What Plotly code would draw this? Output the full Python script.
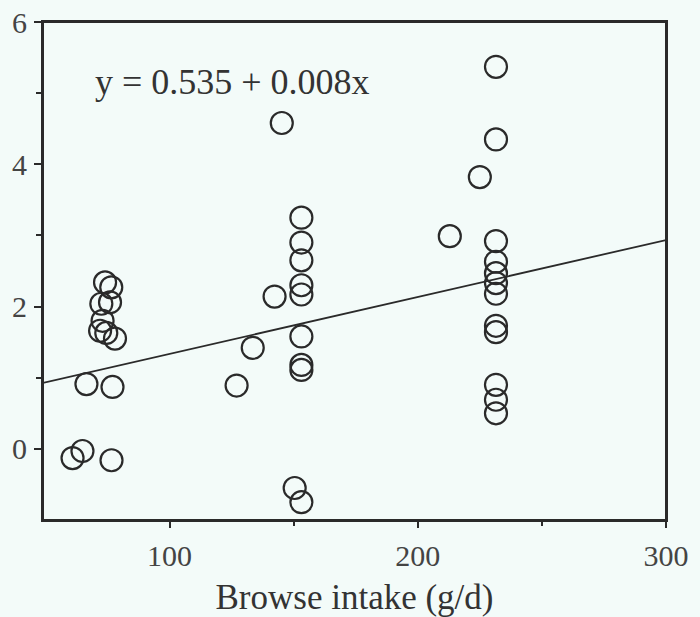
import plotly.graph_objects as go

# Browse intake (g/d) and response values
browse_intake = [
    60.9, 64.9, 76.6,
    66.5, 77.0,
    74.0, 76.5, 72.5, 76.0, 73.0, 72.0, 74.5, 78.0,
    127.0, 133.5, 142.3, 145.2,
    153.1, 153.1, 153.1, 153.1, 153.1, 153.1, 153.1, 153.1,
    150.4, 153.1,
    212.9, 225.0,
    231.5, 231.5, 231.5, 231.5, 231.5, 231.5, 231.5, 231.5, 231.5, 231.5, 231.5, 231.5,
]
response = [
    -0.13, -0.03, -0.16,
    0.91, 0.87,
    2.34, 2.27, 2.04, 2.06, 1.80, 1.66, 1.63, 1.55,
    0.89, 1.42, 2.14, 4.58,
    3.25, 2.90, 2.65, 2.30, 2.17, 1.58, 1.18, 1.11,
    -0.55, -0.75,
    2.99, 3.82,
    5.37, 4.35, 2.92, 2.63, 2.47, 2.33, 2.18, 1.73, 1.64, 0.90, 0.69, 0.50,
]

intercept = 0.535
slope = 0.008
x_range = [49, 300]
y_range = [-1, 6]

x_ticks = [100, 200, 300]
y_ticks = [0, 2, 4, 6]
x_minor = [150, 250]
y_minor = [1, 3, 5]
equation_text = "y = 0.535 + 0.008x"
x_title = "Browse intake (g/d)"

line_x = x_range
line_y = [intercept + slope * v for v in line_x]

bg = "#f3fbf9"
ink = "#2a2a2a"
font_family = "Liberation Serif, Times New Roman, serif"

fig = go.Figure()
fig.add_trace(go.Scatter(
    x=line_x, y=line_y, mode="lines",
    line=dict(color=ink, width=1.8), showlegend=False, hoverinfo="skip",
))
fig.add_trace(go.Scatter(
    x=browse_intake, y=response, mode="markers",
    marker=dict(symbol="circle-open", size=22, color=ink, line=dict(width=2.2, color=ink)),
    showlegend=False,
))

fig.add_annotation(
    x=0.08, y=0.88, xref="paper", yref="paper", xanchor="left", yanchor="middle",
    text=equation_text, showarrow=False,
    font=dict(family=font_family, size=36, color="#333333"),
)

# frame around the plotting area
fig.add_shape(type="rect", xref="paper", yref="paper", x0=0, y0=0, x1=1, y1=1,
              line=dict(color=ink, width=2), layer="above")

fig.update_layout(
    width=700, height=617,
    margin=dict(l=43, r=34, t=22, b=97),
    paper_bgcolor=bg, plot_bgcolor=bg,
    font=dict(family=font_family, size=30, color="#444444"),
    xaxis=dict(
        range=x_range, tickvals=x_ticks, ticks="outside", ticklen=6, tickwidth=1.5,
        tickcolor=ink, showgrid=False, zeroline=False, automargin=False,
        showline=True, linecolor=ink, linewidth=2, mirror=True,
        minor=dict(tickvals=x_minor, ticks="outside", ticklen=4, tickcolor=ink, tickwidth=1.5),
        title=dict(text=x_title, font=dict(family=font_family, size=35, color="#333333"), standoff=27),
        ticklabelstandoff=2, ticklabeloverflow="allow",
    ),
    yaxis=dict(
        range=y_range, tickvals=y_ticks, ticks="outside", ticklen=7, tickwidth=1.5,
        tickcolor=ink, showgrid=False, zeroline=False, automargin=False,
        showline=True, linecolor=ink, linewidth=2, mirror=True,
        minor=dict(tickvals=y_minor, ticks="outside", ticklen=5, tickcolor=ink, tickwidth=1.5),
        ticklabelstandoff=1, ticklabeloverflow="allow",
    ),
)

fig.write_html(
    "out.html",
    config={"displayModeBar": False},
    post_script=(
        "document.body.style.margin='0';"
        "document.body.style.background='#f3fbf9';"
        "document.body.style.overflow='hidden';"
    ),
)
